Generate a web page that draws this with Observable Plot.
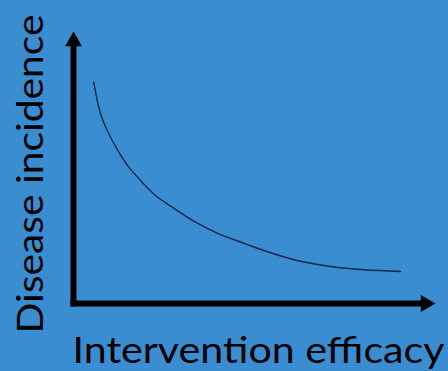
<!DOCTYPE html>
<html>
<head>
<meta charset="utf-8">
<script src="https://cdn.jsdelivr.net/npm/d3@7"></script>
<script src="https://cdn.jsdelivr.net/npm/@observablehq/plot@0.6"></script>
<style>
  html, body { margin: 0; padding: 0; background: #3a8dd0; }
  #chart svg { display: block; }
</style>
</head>
<body>
<div id="chart"></div>
<script>
// Schematic curve: disease incidence vs intervention efficacy (arbitrary units 0-100)
const efficacy  = [5.83, 7.76, 10.14, 13.02, 15.89, 19.74, 23.56, 28.36, 35.06, 41.75, 49.43, 54.68, 64.28, 73.85, 83.42, 93.97];
const incidence = [85.44, 73.24, 65.52, 58.42, 52.63, 46.83, 41.70, 37.18, 31.39, 26.91, 23.05, 20.46, 16.60, 14.29, 13.01, 12.36];
const axisExtent = [0, 100];
const xLabel = "Intervention efficacy";
const yLabel = "Disease incidence";

const curve = efficacy.map((x, i) => ({x, y: incidence[i]}));
const xAxisLine = axisExtent.map(x => ({x, y: axisExtent[0]}));
const yAxisLine = axisExtent.map(y => ({x: axisExtent[0], y}));

const chart = Plot.plot({
  width: 448,
  height: 371,
  margin: 0,
  x: {domain: axisExtent, range: [73, 421], axis: null},
  y: {domain: axisExtent, range: [303, 44], axis: null},
  style: {background: "#3a8dd0", overflow: "visible"},
  marks: [
    Plot.line(curve, {x: "x", y: "y", stroke: "#0f2748", strokeWidth: 1.4, curve: "catmull-rom"}),
    Plot.line(yAxisLine, {x: "x", y: "y", stroke: "black", strokeWidth: 6, strokeLinecap: "square"}),
    Plot.line(xAxisLine, {x: "x", y: "y", stroke: "black", strokeWidth: 6, strokeLinecap: "square"}),
    Plot.dot([yAxisLine[1]], {x: "x", y: "y", symbol: "triangle", r: 6.3, fill: "black", stroke: null, dy: -3.2}),
    Plot.dot([xAxisLine[1]], {x: "x", y: "y", symbol: "triangle", r: 6.3, fill: "black", stroke: null, rotate: 90, dx: 4.2}),
    Plot.text([xLabel], {text: d => d, frameAnchor: "bottom-left", textAnchor: "start", lineAnchor: "bottom",
      dx: 72, dy: -8.7, fontSize: 36, fontFamily: "Lato", fill: "black", className: "xlab"}),
    Plot.text([yLabel], {text: d => d, frameAnchor: "bottom-left", textAnchor: "start", lineAnchor: "bottom",
      rotate: -90, dx: 42.5, dy: -38, fontSize: 36, fontFamily: "Lato", fill: "black", className: "ylab"})
  ]
});
document.getElementById("chart").append(chart);

// fit label lengths to the reference
const fit = (sel, len) => {
  const t = chart.querySelector(sel + " text");
  if (t) { t.setAttribute("textLength", len); t.setAttribute("lengthAdjust", "spacingAndGlyphs"); }
};
fit(".xlab", 372);
fit(".ylab", 319);
</script>
</body>
</html>
